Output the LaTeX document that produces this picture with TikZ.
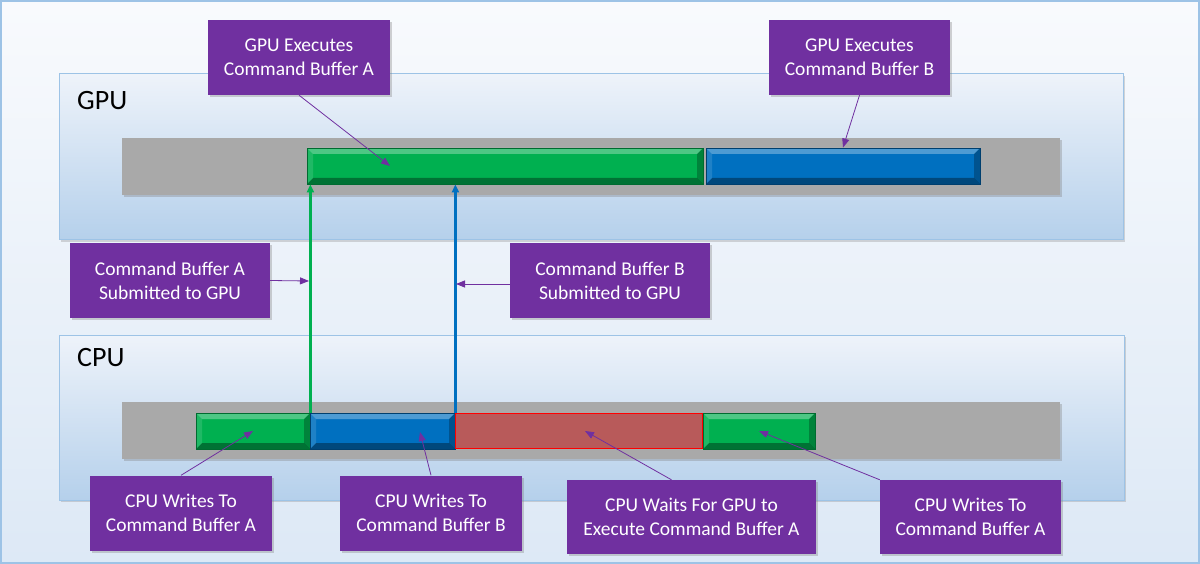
\documentclass[tikz,border=0pt]{standalone}
\usepackage{fontspec}
\setmainfont{Carlito}
\usetikzlibrary{arrows.meta,shadows}

\definecolor{notepurple}{HTML}{7030A0}
\definecolor{bufgreen}{HTML}{00B050}
\definecolor{bufgreendark}{HTML}{006B30}
\definecolor{bufblue}{HTML}{0070C0}
\definecolor{bufbluedark}{HTML}{003F6E}
\definecolor{waitred}{HTML}{B85A5A}
\definecolor{trackgray}{HTML}{A9A9A9}
\definecolor{panelline}{HTML}{9DC3E6}
\definecolor{paneltop}{HTML}{EEF3FA}
\definecolor{panelbottom}{HTML}{B5D0EB}

\tikzset{
  note/.style={fill=notepurple, text=white, align=center, inner sep=0pt,
    minimum height=75pt, font=\fontsize{19.5}{24}\selectfont,
    drop shadow={shadow xshift=2pt, shadow yshift=-2pt, opacity=.35}},
  noteline/.style={draw=notepurple, line width=0.8pt,
    -{Triangle[length=9pt,width=7pt]}},
  panel/.style={top color=paneltop, bottom color=panelbottom, draw=panelline,
    line width=1pt, inner sep=0pt,
    drop shadow={shadow xshift=2pt, shadow yshift=-2pt, opacity=.3}},
  track/.style={fill=trackgray, inner sep=0pt, minimum height=57pt,
    drop shadow={shadow xshift=2pt, shadow yshift=-2pt, opacity=.35}},
  buf/.style={inner sep=0pt, minimum height=36pt, line width=0.8pt, bevel},
  bevel/.style={path picture={
    \coordinate (nw) at (path picture bounding box.north west);
    \coordinate (ne) at (path picture bounding box.north east);
    \coordinate (sw) at (path picture bounding box.south west);
    \coordinate (se) at (path picture bounding box.south east);
    \fill[white,opacity=.3] (nw) -- (ne) -- ([shift={(-6,6)}]ne) -- ([shift={(6,6)}]nw) -- cycle;
    \fill[black,opacity=.35] (sw) -- (se) -- ([shift={(-6,-6)}]se) -- ([shift={(6,-6)}]sw) -- cycle;
    \fill[black,opacity=.25] (ne) -- (se) -- ([shift={(-6,-6)}]se) -- ([shift={(-6,6)}]ne) -- cycle;
    \fill[white,opacity=.12] (nw) -- (sw) -- ([shift={(6,-6)}]sw) -- ([shift={(6,6)}]nw) -- cycle;
  }},
  title/.style={anchor=west, inner sep=0pt, font=\fontsize{28}{28}\selectfont}
}

\begin{document}
\begin{tikzpicture}[x=1pt,y=-1pt]
  % Background
  \useasboundingbox (0,0) rectangle (1200,564);
  \shade[top color=white!60!paneltop, bottom color=paneltop!70!panelbottom]
    (0,0) rectangle (1200,564);
  \draw[panelline, line width=2pt] (1,1) rectangle (1199,563);

  % Panels
  \node[panel, minimum width=1064pt, minimum height=166pt] (gpuPanel) at (591,157) {};
  \node[panel, minimum width=1065pt, minimum height=165pt] (cpuPanel) at (591.5,417.5) {};
  \node[title] (gpuTitle) at (77,101) {GPU};
  \node[title] (cpuTitle) at (77,358) {CPU};

  % Tracks
  \node[track, minimum width=938pt] (gpuTrack) at (591,166.5) {};
  \node[track, minimum width=938pt] (cpuTrack) at (591,430.5) {};

  % GPU buffers
  \node[buf, fill=bufgreen, draw=bufgreendark, minimum width=396pt] (gpuA) at (505,166) {};
  \node[buf, fill=bufblue, draw=bufbluedark, minimum width=274pt] (gpuB) at (843,166) {};

  % CPU buffers
  \node[buf, fill=bufgreen, draw=bufgreendark, minimum width=114pt] (cpuA1) at (253,431) {};
  \node[buf, fill=bufblue, draw=bufbluedark, minimum width=145pt] (cpuB) at (382.5,431) {};
  \node[inner sep=0pt, fill=waitred, draw=red, line width=1.5pt,
    minimum width=247pt, minimum height=35pt] (cpuWait) at (579,431) {};
  \node[buf, fill=bufgreen, draw=bufgreendark, minimum width=112pt] (cpuA2) at (759,431) {};

  % Submit lines
  \draw[bufgreen, line width=2.2pt, -{Triangle[length=8pt,width=7pt]}]
    (cpuA1.north east) -- (cpuA1.north east |- gpuA.south);
  \draw[bufblue, line width=2.2pt, -{Triangle[length=8pt,width=7pt]}]
    (cpuB.north east) -- (cpuB.north east |- gpuA.south);

  % Notes
  \node[note, minimum width=182pt] (gpuExecA) at (299,57.5) {GPU Executes\\Command Buffer A};
  \node[note, minimum width=181pt] (gpuExecB) at (859.5,57.5) {GPU Executes\\Command Buffer B};
  \node[note, minimum width=200pt] (submitA) at (170,280.5) {Command Buffer A\\Submitted to GPU};
  \node[note, minimum width=200pt] (submitB) at (610,280.5) {Command Buffer B\\Submitted to GPU};
  \node[note, minimum width=182pt] (writeA1) at (181,513) {CPU Writes To\\Command Buffer A};
  \node[note, minimum width=182pt] (writeB) at (431,513) {CPU Writes To\\Command Buffer B};
  \node[note, minimum width=249pt, minimum height=74pt] (waitGpu) at (691.5,517) {CPU Waits For GPU to\\Execute Command Buffer A};
  \node[note, minimum width=181pt, minimum height=74pt] (writeA2) at (970.5,517) {CPU Writes To\\Command Buffer A};

  % Note pointers
  \coordinate (gpuATip) at (390,166);
  \coordinate (submitATip) at (309,281);
  \coordinate (submitBTip) at (456,284);
  \coordinate (cpuBTip) at (420,432);
  \draw[noteline] (gpuExecA.south) -- (gpuATip);
  \draw[noteline] (gpuExecB.south) -- (gpuB.north);
  \draw[noteline] (submitA.east) -- (submitATip);
  \draw[noteline] (submitB.west |- submitBTip) -- (submitBTip);
  \draw[noteline] (writeA1.north) -- (cpuA1.center);
  \draw[noteline] (writeB.north) -- (cpuBTip);
  \draw[noteline] ([xshift=-20pt]waitGpu.north) -- ([xshift=6pt]cpuWait.center);
  \draw[noteline] (writeA2.north west) -- (cpuA2.center);
\end{tikzpicture}
\end{document}
